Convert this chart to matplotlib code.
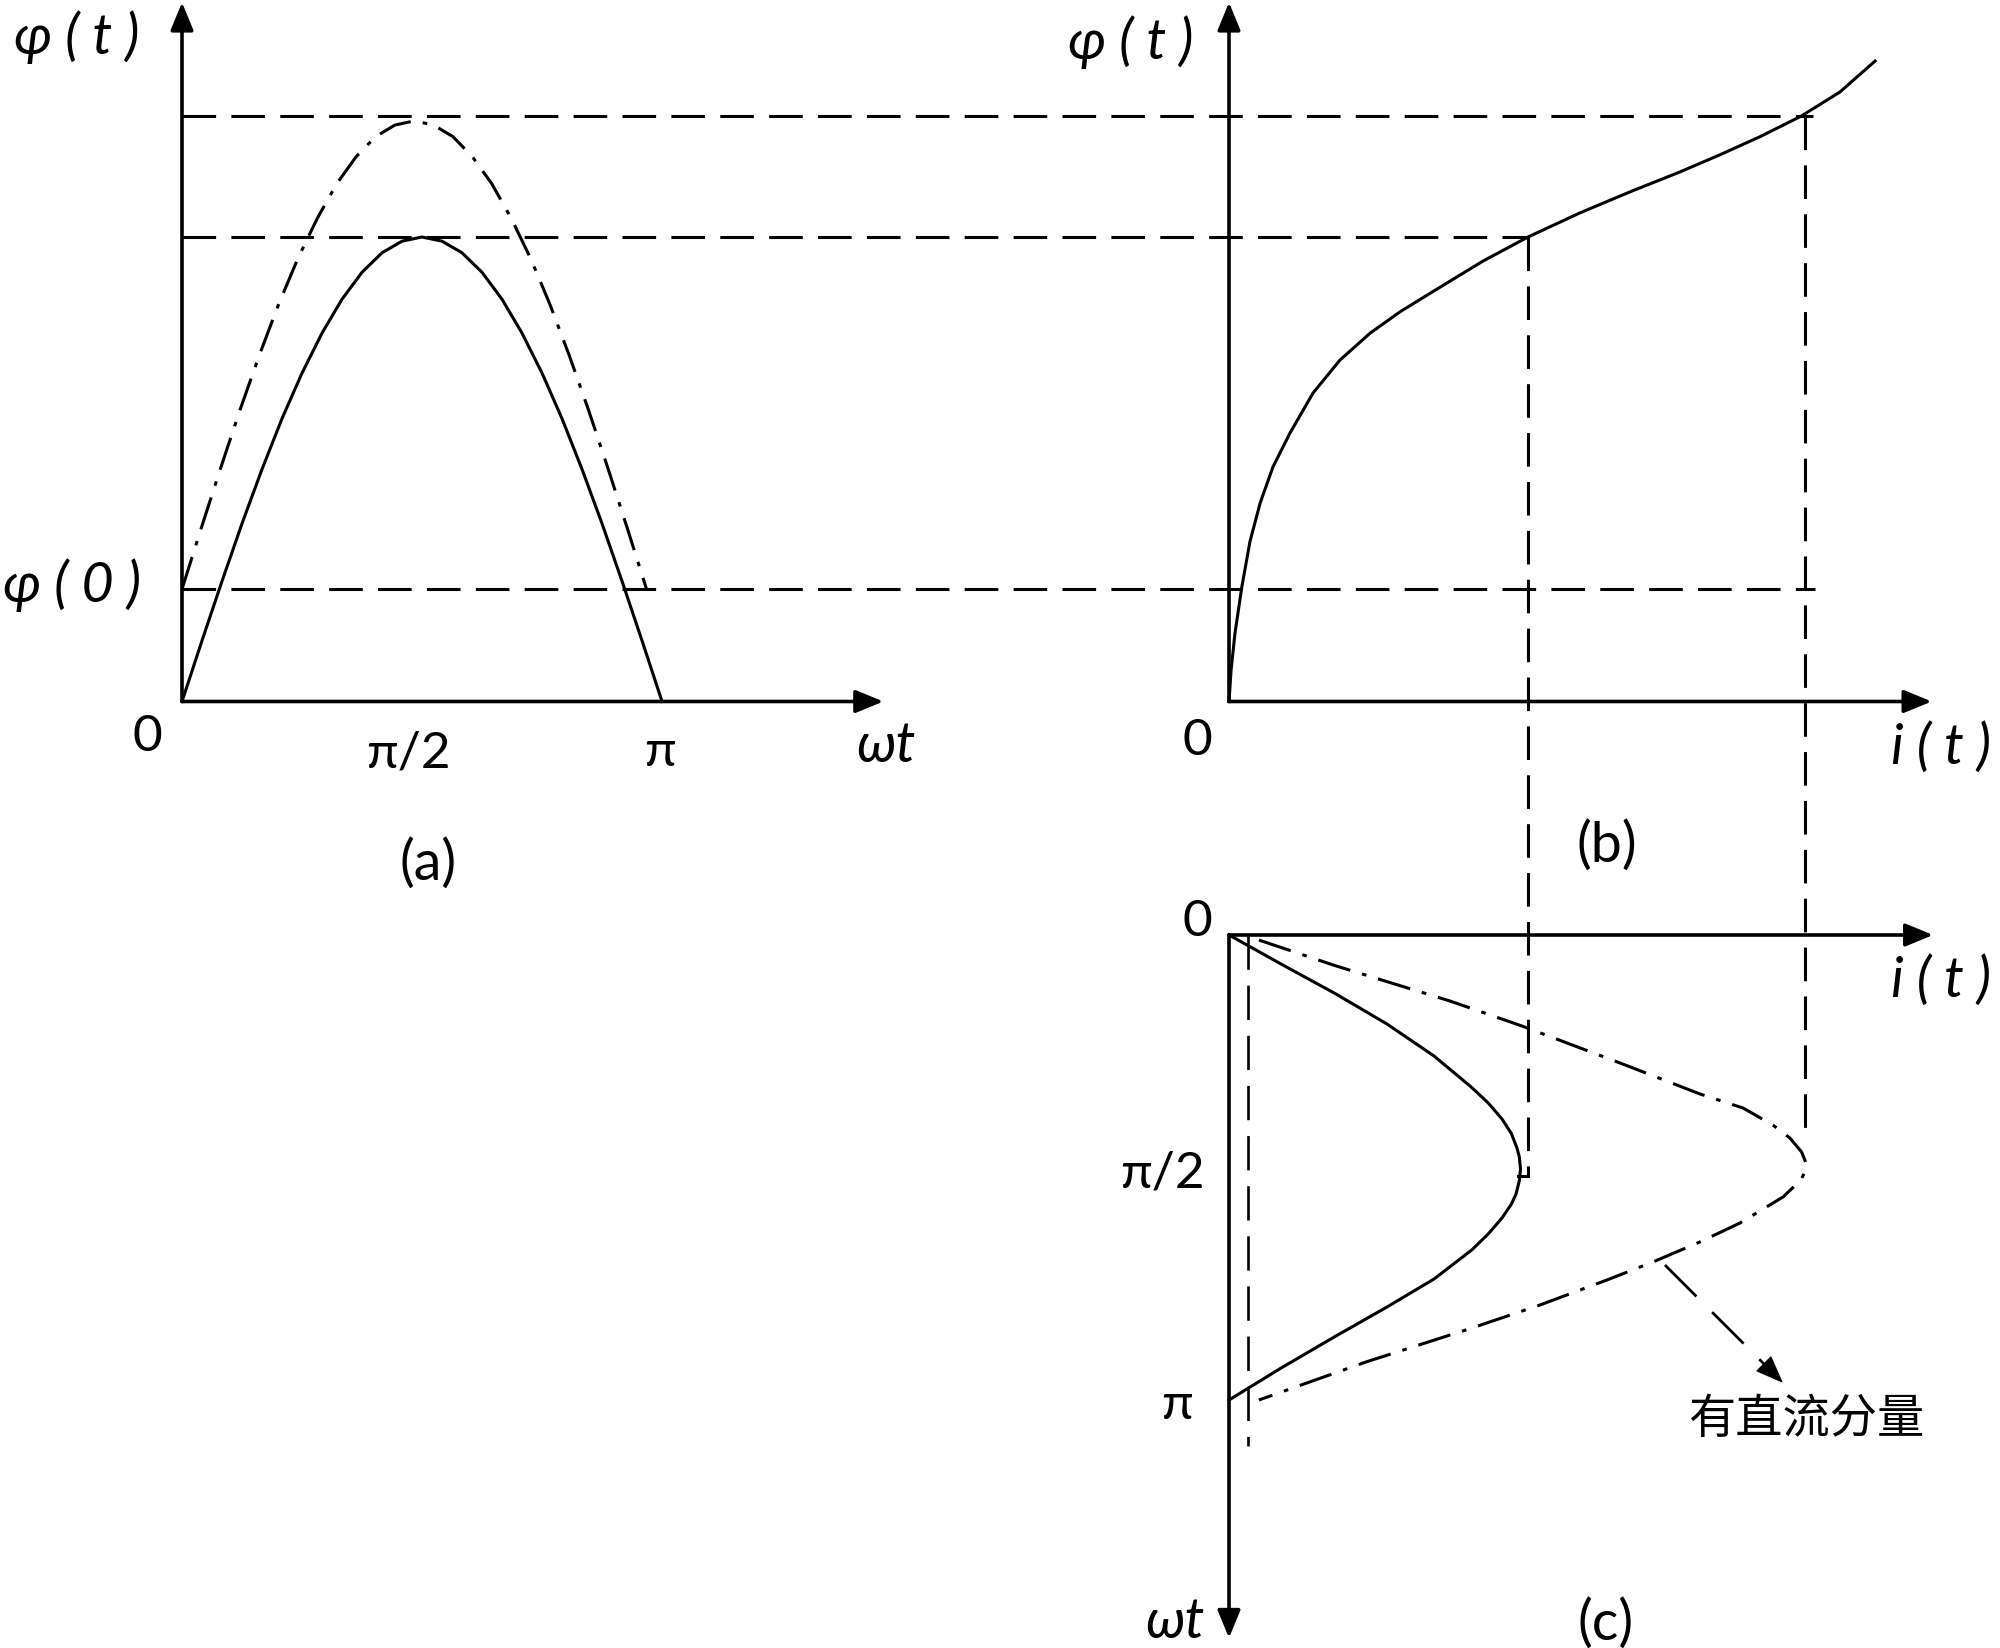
import numpy as np
import matplotlib
matplotlib.use("Agg")
import matplotlib.pyplot as plt
from matplotlib.transforms import Affine2D

# ---- data (units: phi peak = 1, i at that peak = 1) ----
# (a) flux phi(t) over half a period, without and with the DC offset
wt_a = np.linspace(0, np.pi, 25)
phi_a = [0, 0.131, 0.259, 0.383, 0.5, 0.609, 0.707, 0.793, 0.866, 0.924, 0.966, 0.991, 1.0,
         0.991, 0.966, 0.924, 0.866, 0.793, 0.707, 0.609, 0.5, 0.383, 0.259, 0.131, 0]
wt_a_dc = np.linspace(0, 3.04, 25)
phi_a_dc = [0.242, 0.374, 0.503, 0.628, 0.746, 0.856, 0.955, 1.041, 1.115, 1.173, 1.216, 1.241, 1.25,
            1.241, 1.216, 1.173, 1.115, 1.041, 0.955, 0.856, 0.746, 0.628, 0.503, 0.374, 0.242]
phi0 = 0.242
phi_top = 1.26

# (b) magnetisation curve phi(i)
i_b = [0, 0.007, 0.020, 0.043, 0.070, 0.104, 0.147, 0.204, 0.281, 0.371, 0.472, 0.572, 0.706,
       0.849, 1.0, 1.174, 1.348, 1.508, 1.642, 1.776, 1.913, 2.043, 2.161]
phi_b = [0, 0.068, 0.147, 0.247, 0.344, 0.427, 0.505, 0.578, 0.664, 0.735, 0.793, 0.839, 0.892,
         0.948, 1.0, 1.052, 1.099, 1.140, 1.177, 1.216, 1.260, 1.312, 1.379]

# (c) magnetising current i(wt)
wt_c = [0, 0.196, 0.399, 0.601, 0.818, 1.027, 1.135, 1.243, 1.340, 1.439, 1.50, 1.581, 1.66,
        1.750, 1.82, 1.912, 2.020, 2.128, 2.324, 2.514, 2.709, 2.926, 3.142]
i_c = [0, 0.174, 0.358, 0.528, 0.686, 0.810, 0.867, 0.913, 0.944, 0.963, 0.971, 0.975, 0.971,
       0.960, 0.944, 0.913, 0.867, 0.812, 0.686, 0.528, 0.358, 0.174, 0]
wt_c_dc = [0.034, 0.209, 0.446, 0.615, 0.865, 1.074, 1.169, 1.284, 1.372, 1.466, 1.541, 1.600,
           1.655, 1.770, 1.946, 2.074, 2.209, 2.331, 2.500, 2.655, 2.885, 3.142]
i_c_dc = [0.100, 0.358, 0.739, 0.980, 1.308, 1.575, 1.719, 1.819, 1.876, 1.915, 1.930, 1.926,
          1.913, 1.853, 1.709, 1.575, 1.418, 1.264, 1.040, 0.813, 0.458, 0.100]
i_dc = 0.064

# ---- figure: one canvas, each panel gets its own affine scale ----
fig = plt.figure(figsize=(20, 16.48), dpi=100)
ax = fig.add_axes([0, 0, 1, 1])
ax.set_xlim(0, 2000)
ax.set_ylim(1648, 0)
ax.axis("off")

aff_a = Affine2D().scale(152.8, -464.5).translate(182, 701.5)   # (wt, phi)
aff_b = Affine2D().scale(299, -464.5).translate(1229, 701.5)    # (i, phi)
aff_c = Affine2D().scale(299, 148).translate(1229, 935)         # (i, wt)
tr_a = aff_a + ax.transData
tr_b = aff_b + ax.transData
tr_c = aff_c + ax.transData

LW = 2.2
dashed = dict(color="k", lw=LW, linestyle=(0, (11, 5)))
dashdot = dict(color="k", lw=LW, linestyle=(0, (11, 4, 1.5, 4)))
solid = dict(color="k", lw=LW, solid_joinstyle="round")


def axis_arrow(tr, start, end):
    ax.annotate("", xy=end, xytext=start, xycoords=tr, textcoords=tr,
                arrowprops=dict(arrowstyle="-|>,head_length=17,head_width=7",
                                mutation_scale=1, lw=2.6, color="k",
                                shrinkA=0, shrinkB=0))


# axes
axis_arrow(tr_a, (0, 0), (0, 1.505))
axis_arrow(tr_a, (0, 0), (4.59, 0))
axis_arrow(tr_b, (0, 0), (0, 1.505))
axis_arrow(tr_b, (0, 0), (2.35, 0))
axis_arrow(tr_c, (0, 0), (2.355, 0))
axis_arrow(tr_c, (0, 0), (0, 4.75))

# curves
ax.plot(wt_a, phi_a, transform=tr_a, **solid)
ax.plot(wt_a_dc, phi_a_dc, transform=tr_a, **dashdot)
ax.plot(i_b, phi_b, transform=tr_b, **solid)
ax.plot(i_c, wt_c, transform=tr_c, **solid)
ax.plot(i_c_dc, wt_c_dc, transform=tr_c, **dashdot)
ax.plot([i_dc, i_dc], [0, 3.45], transform=tr_c, color="k", lw=1.9, linestyle=(0, (13, 6)))

# projection lines between panels
for level, i_end in [(phi_top, 1.953), (1.0, 1.0), (phi0, 1.96)]:
    p0 = aff_a.transform((0, level))
    p1 = aff_b.transform((i_end, level))
    ax.plot([p0[0], p1[0]], [p0[1], p1[1]], **dashed)

for i_v, phi_v, wt_v in [(1.0, 1.0, 1.63), (1.926, 1.26, 1.40)]:
    p0 = aff_b.transform((i_v, phi_v))
    p1 = aff_c.transform((i_v, wt_v))
    ax.plot([p0[0], p1[0]], [p0[1], p1[1]], **dashed)
ax.plot([0.965, 1.0], [1.63, 1.63], transform=tr_c, **solid)

# annotation arrow for the DC component
a0 = aff_c.transform((1.458, 2.230))
a1 = aff_c.transform((1.853, 3.027))
d = (a1 - a0) / np.hypot(*(a1 - a0))
ax.plot([a0[0], a1[0] - 20 * d[0]], [a0[1], a1[1] - 20 * d[1]],
        color="k", lw=2.0, linestyle=(0, (16, 8)))
ax.annotate("", xy=a1, xytext=a1 - 26 * d,
            arrowprops=dict(arrowstyle="-|>,head_length=18,head_width=7",
                            mutation_scale=1, lw=1.0, color="k",
                            shrinkA=0, shrinkB=0))

# labels
FAM = ["Lato", "DejaVu Sans"]
it = dict(fontsize=40, family=FAM, style="italic", ha="center", va="center")
rm = dict(fontsize=37, family=FAM, ha="center", va="center")
pr = dict(fontsize=40, family=FAM, ha="center", va="center")

ax.text(-0.687, 1.43, "φ ( t )", transform=tr_a, **it)
ax.text(-0.72, 0.25, "φ ( 0 )", transform=tr_a, **it)
ax.text(-0.229, -0.077, "0", transform=tr_a, **rm)
ax.text(1.479, -0.111, "π/2", transform=tr_a, **rm)
ax.text(3.128, -0.109, "π", transform=tr_a, **rm)
ax.text(4.607, -0.096, "ωt", transform=tr_a, **it)
ax.text(1.61, -0.35, "(a)", transform=tr_a, **pr)

ax.text(-0.328, 1.42, "φ ( t )", transform=tr_b, **it)
ax.text(-0.107, -0.085, "0", transform=tr_b, **rm)
ax.text(2.38, -0.10, "i ( t )", transform=tr_b, **it)
ax.text(1.264, -0.311, "(b)", transform=tr_b, **pr)

ax.text(-0.107, -0.088, "0", transform=tr_c, **rm)
ax.text(2.38, 0.311, "i ( t )", transform=tr_c, **it)
ax.text(-0.221, 1.61, "π/2", transform=tr_c, **rm)
ax.text(-0.174, 3.176, "π", transform=tr_c, **rm)
ax.text(-0.181, 4.642, "ωt", transform=tr_c, **it)
ax.text(1.258, 4.655, "(c)", transform=tr_c, **pr)
ax.text(1.93, 3.277, "有直流分量", transform=tr_c, fontsize=34,
        family=["Noto Sans CJK SC", "DejaVu Sans"], fontweight="light",
        ha="center", va="center")

fig.savefig("out.png", dpi=100)
